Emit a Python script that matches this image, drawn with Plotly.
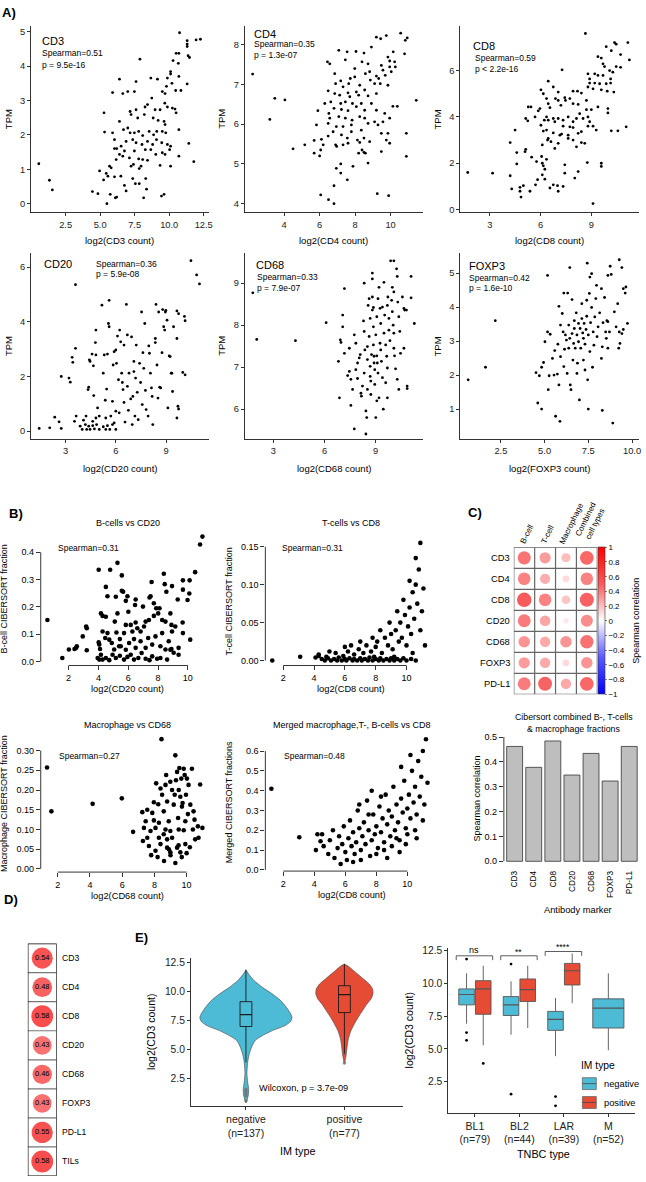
import plotly.graph_objects as go

W, H = 646, 1182
FONT = "Liberation Sans, Arial, Helvetica, sans-serif"

# ======================= DATA =======================
# ---- Panel A: TPM vs log2(count) ----
cd3_pts = [(0.56,1.16),(1.33,0.68),(1.54,0.40),(4.44,0.35),(4.84,0.29),(5.49,0.0),(5.73,0.27),(6.1,0.17),(6.2,0.19),(5.25,0.69),(5.56,0.8),(5.44,0.88),(5.8,1.04),(6.04,0.78),(6.5,0.8),(6.76,0.53),(6.88,0.37),(7.36,0.73),(7.55,0.58),(7.83,0.58),(8.15,0.17),(8.36,0.42),(8.3,0.73),(9.44,0.22),(9.63,0.27),
(10.75,4.97),(11.3,4.74),(11.3,4.64),(11.3,4.57),(11.95,4.76),(12.26,4.78),(11.37,4.3),(11.47,4.25),(10.5,4.37),(10.7,4.37),(10.28,4.16),(10.66,4.08),(10.1,3.84),(10.1,3.77),(7.88,4.2),(6.4,3.62),(7.6,3.55),(8.67,3.65),(9.15,3.62),(9.87,3.65),(10.7,3.7),(11.3,3.48),(5.9,3.23),(6.64,3.2),(7.0,3.26),(7.48,3.26),(8.74,3.07),(9.5,3.26),(9.7,3.2),(10.47,3.29),(10.85,3.29),(9.8,3.41),(10.2,3.5),
(5.28,2.64),(7.17,2.68),(7.24,2.59),(7.6,2.73),(8.25,2.81),(8.43,2.88),(8.98,2.73),(9.34,2.73),(9.68,2.92),(9.87,2.81),(10.23,2.78),(10.42,2.75),(10.5,2.64),(7.72,2.49),(8.2,2.59),(8.84,2.49),(9.2,2.42),(9.63,2.39),(9.7,2.3),(6.4,2.39),(6.69,2.15),(7.0,2.2),(7.17,2.06),(7.48,2.06),(7.79,2.1),(8.08,1.98),(8.55,2.1),(8.87,2.0),(9.1,2.1),(9.5,2.1),(9.75,2.06),(10.7,2.15),(5.32,2.08),(5.9,2.06),(6.04,1.86),(6.04,1.6),(6.2,1.6),(6.52,1.67),(6.88,1.81),(7.36,1.86),(7.6,1.77),(8.03,1.72),(8.43,1.81),(8.8,1.72),(9.08,1.86),(9.46,1.77),(9.87,1.72),(10.1,1.67),(6.76,1.53),(7.48,1.53),(8.27,1.57),(8.67,1.57),(9.03,1.43),(9.5,1.48),(9.7,1.43),(10.03,1.57),(6.64,1.38),(7.12,1.33),(7.79,1.3),(8.08,1.28),(8.43,1.26),(7.24,1.09),(7.41,1.14),(7.96,1.09),(7.83,1.02),(9.34,1.11),(10.1,1.09),(10.7,1.38),(11.42,1.75),(11.78,1.22),(6.16,1.28),(6.4,1.43),(4.96,0.95),(5.68,1.09)]

cd4_pts = [(2.22,7.26),(3.47,6.65),(4.04,6.61),(3.19,6.12),(4.5,5.38),(5.16,5.48),(5.69,5.27),(5.69,5.59),(6.06,5.35),(6.2,5.48),(6.1,5.62),(6.0,5.2),(5.9,6.34),(5.82,5.98),(6.29,6.52),(6.48,6.84),(6.63,6.56),(6.52,6.27),(6.48,6.02),(6.44,7.57),(6.57,7.52),(6.85,7.27),(6.9,7.02),(7.08,7.86),(7.45,7.62),(7.55,7.82),(8.05,7.83),(8.5,7.79),(8.92,7.94),(9.2,8.19),(9.44,8.15),(9.76,8.23),(10.57,8.29),(10.94,8.17),(10.83,8.11),(10.79,7.77),(10.15,7.82),(9.85,7.69),(9.95,7.59),(10.23,7.57),(10.27,7.44),(9.95,7.44),(9.48,7.48),(9.57,7.36),(10.04,7.32),(9.7,7.23),(9.2,7.21),(8.82,7.32),(8.73,7.52),(8.39,7.57),(7.98,7.4),(8.58,7.27),(7.98,7.19),(7.73,7.15),(7.19,7.09),(7.32,6.94),(7.64,7.02),(8.26,6.98),(8.86,7.11),(9.1,7.02),(9.33,7.15),(9.42,7.02),(9.85,6.98),(8.54,6.86),(8.07,6.81),(7.6,6.79),(7.13,6.73),(6.85,6.77),(7.7,6.69),(8.2,6.73),(8.73,6.71),(9.2,6.77),(7.19,6.52),(7.45,6.56),(7.85,6.52),(8.35,6.52),(8.92,6.52),(6.81,6.4),(7.23,6.37),(7.6,6.34),(8.07,6.44),(8.54,6.35),(9.2,6.35),(9.67,6.27),(10.13,6.45),(10.38,6.45),(11.45,6.6),(6.57,6.15),(7.08,6.19),(7.45,6.15),(7.83,6.1),(8.26,6.19),(8.54,6.15),(9.1,6.06),(9.57,6.06),(9.95,6.15),(6.94,5.94),(7.32,5.94),(7.79,5.98),(8.35,5.85),(8.73,6.02),(9.29,5.98),(9.48,5.77),(9.85,5.77),(9.76,5.6),(6.76,5.81),(7.23,5.73),(7.79,5.81),(7.56,5.65),(8.13,5.6),(8.5,5.65),(8.82,5.56),(6.48,5.7),(6.9,5.48),(6.96,5.44),(7.32,5.48),(7.6,5.52),(8.26,5.54),(8.39,5.35),(8.58,5.27),(8.5,5.29),(8.2,5.27),(7.88,4.94),(8.73,5.02),(9.48,5.31),(9.95,5.52),(10.89,5.77),(10.89,5.19),(6.94,4.89),(7.19,5.0),(7.19,4.77),(7.56,4.6),(6.81,4.45),(6.06,4.22),(6.5,4.1),(6.81,4.0),(9.25,4.25),(9.89,4.2)]

cd8_pts = [(1.69,1.6),(3.16,1.57),(4.2,1.46),(4.29,0.89),(4.78,0.96),(4.78,0.79),(4.84,0.54),(4.98,1.03),(5.37,0.79),(4.49,3.43),(4.2,2.89),(4.59,2.46),(4.59,1.97),(5.12,2.6),(5.08,2.5),(5.47,2.26),(5.76,2.07),(6.06,2.29),(6.16,1.89),(6.35,2.17),(6.25,1.31),(6.55,0.93),(6.75,1.07),(7.0,1.03),(7.33,1.0),(7.04,0.79),(5.7,1.07),(5.82,1.29),(6.1,1.5),(6.25,1.74),(6.1,2.0),(7.43,1.93),(7.43,1.57),(8.02,1.36),(8.22,1.64),(8.76,2.03),(9.59,2.0),(9.59,1.86),(9.1,0.26),(8.65,7.6),(10.37,7.21),(10.47,7.14),(11.16,7.21),(9.88,7.03),(10.18,6.86),(11.25,6.46),(10.73,6.69),(9.39,6.6),(9.59,6.54),(9.69,6.29),(9.78,6.17),(10.08,6.0),(10.27,5.93),(10.47,6.17),(10.73,6.14),(9.2,5.86),(8.8,5.86),(8.9,5.64),(9.39,5.79),(9.69,5.79),(10.14,5.64),(8.9,5.46),(9.2,5.46),(9.49,5.43),(9.88,5.43),(10.14,5.46),(8.8,5.29),(9.1,5.21),(9.59,5.17),(9.94,5.11),(10.33,5.07),(8.41,5.03),(7.92,5.11),(8.18,5.11),(7.27,6.03),(6.45,5.54),(6.75,5.29),(7.04,5.07),(6.02,5.17),(6.16,5.0),(6.35,4.79),(6.88,4.79),(7.43,4.83),(7.47,4.71),(7.73,4.79),(7.04,4.71),(6.45,4.57),(5.27,4.43),(5.43,4.43),(5.96,4.36),(5.86,4.26),(6.55,4.4),(7.2,4.5),(7.92,4.57),(8.22,4.54),(8.71,4.71),(8.31,4.14),(8.71,4.31),(9.0,4.31),(9.39,4.43),(9.98,4.36),(9.98,4.17),(5.12,3.93),(5.24,3.83),(5.67,4.0),(6.02,3.64),(6.22,3.86),(6.35,4.0),(6.45,3.86),(6.75,3.93),(6.84,3.79),(7.04,3.93),(7.33,3.86),(7.63,4.0),(7.92,3.79),(8.12,3.93),(8.51,3.93),(8.8,4.0),(8.9,3.79),(7.33,3.6),(7.73,3.57),(7.92,3.54),(8.8,3.6),(9.1,3.6),(9.29,3.43),(10.18,3.4),(10.57,3.4),(11.06,3.57),(6.16,3.39),(6.35,3.43),(6.75,3.31),(7.14,3.21),(7.24,3.26),(7.63,3.21),(8.22,3.29),(8.41,3.36),(6.41,3.0),(6.45,3.07),(6.61,2.93),(7.04,2.86),(7.92,3.0),(8.12,2.71),(8.41,2.89),(8.61,2.86),(7.63,3.07),(6.84,2.64),(6.1,2.79)]

cd20_pts = [(1.42,0.1),(2.05,0.12),(2.35,0.51),(2.61,0.34),(2.74,0.1),(2.74,2.0),(3.2,1.94),(3.28,1.79),(3.39,2.7),(3.43,2.52),(3.59,5.36),(3.59,3.03),(3.63,0.55),(3.99,0.06),(4.07,0.4),(4.18,0.24),(4.26,0.06),(4.38,0.18),(4.46,0.06),(4.62,0.2),(4.72,0.08),(4.85,0.24),(5.01,0.06),(5.25,0.16),(5.4,0.06),(5.5,0.2),(5.64,0.06),(5.8,0.24),(6.0,0.06),(3.53,0.36),(3.87,0.18),(4.22,0.55),(4.34,1.52),(4.38,1.61),(4.46,2.55),(4.42,2.61),(4.58,2.82),(4.66,2.39),(4.68,1.3),(4.78,3.24),(4.81,3.7),(4.91,0.85),(4.81,2.79),(5.01,0.55),(5.17,4.61),(5.25,2.12),(5.31,2.79),(5.37,1.13),(5.5,2.82),(5.45,1.54),(5.6,4.79),(5.56,3.94),(5.6,3.82),(5.7,0.55),(5.8,1.09),(5.84,2.42),(5.9,2.91),(6.0,2.97),(6.04,2.48),(6.1,3.48),(6.16,1.88),(6.2,0.67),(6.23,3.7),(6.29,3.27),(6.35,2.12),(6.39,1.78),(6.43,1.52),(6.49,3.15),(6.49,1.05),(6.55,0.33),(6.63,4.64),(6.69,3.52),(6.69,1.64),(6.75,0.76),(6.79,2.12),(6.89,1.18),(6.94,3.45),(6.98,0.24),(7.02,1.27),(7.08,2.55),(7.08,2.18),(7.14,0.55),(7.18,1.94),(7.22,3.15),(7.28,1.42),(7.34,0.42),(7.42,2.48),(7.48,1.78),(7.54,4.36),(7.58,0.97),(7.62,2.87),(7.67,2.3),(7.73,3.94),(7.77,1.49),(7.81,0.79),(7.93,0.55),(7.97,3.12),(8.01,2.85),(8.07,2.12),(8.13,1.58),(8.17,1.27),(8.21,0.24),(8.36,3.39),(8.36,3.24),(8.4,4.64),(8.46,2.42),(8.52,1.21),(8.56,4.36),(8.62,1.61),(8.68,1.58),(8.76,2.87),(8.8,4.45),(8.86,3.82),(8.92,3.7),(8.96,4.36),(8.99,4.42),(9.06,4.06),(9.11,0.85),(9.19,2.75),(9.25,2.73),(9.31,2.12),(9.35,2.12),(9.39,1.45),(9.45,3.82),(9.65,3.39),(9.65,4.4),(9.71,0.91),(9.75,4.3),(9.75,0.81),(9.65,0.48),(10.0,2.15),(10.14,2.06),(10.1,4.2),(10.14,4.04),(10.49,6.24),(10.83,5.72),(11.0,5.39),(6.0,0.73),(5.4,0.48),(5.9,0.3),(4.81,0.48),(4.62,0.36)]

cd68_pts = [(1.8,8.77),(2.03,7.66),(4.3,7.63),(6.1,8.06),(6.82,7.14),(6.88,6.27),(7.07,8.24),(7.07,7.96),(6.93,7.65),(6.97,7.59),(7.17,7.33),(7.36,6.8),(7.55,6.09),(7.75,5.53),(7.17,8.87),(7.46,7.45),(7.46,6.9),(7.55,6.71),(7.65,6.47),(7.75,7.77),(7.84,7.57),(7.84,6.94),(7.94,6.73),(7.94,7.1),(8.04,7.22),(8.1,7.3),(8.14,6.38),(8.17,6.31),(8.23,6.55),(8.29,8.1),(8.33,9.0),(8.33,6.86),(8.37,7.41),(8.43,5.96),(8.43,5.41),(8.48,5.8),(8.52,7.49),(8.52,7.18),(8.56,8.47),(8.62,7.73),(8.62,8.63),(8.68,7.02),(8.68,6.78),(8.72,6.67),(8.72,6.35),(8.76,7.3),(8.81,9.24),(8.81,9.1),(8.81,8.67),(8.81,8.36),(8.87,7.96),(8.87,7.53),(8.91,7.26),(8.91,7.1),(8.95,6.94),(8.95,6.59),(9.01,5.8),(9.01,7.77),(9.07,8.2),(9.07,7.27),(9.1,7.1),(9.14,8.63),(9.14,6.86),(9.2,8.9),(9.2,6.27),(9.26,8.4),(9.26,7.57),(9.3,8.04),(9.3,7.41),(9.34,7.14),(9.4,6.75),(9.45,6.0),(9.49,7.81),(9.49,9.02),(9.53,8.24),(9.59,7.53),(9.59,6.63),(9.65,7.26),(9.69,8.47),(9.69,6.98),(9.72,8.67),(9.78,8.16),(9.78,7.88),(9.84,7.63),(9.88,9.53),(10.07,9.53),(9.98,8.9),(10.07,8.79),(9.94,8.59),(9.98,8.32),(10.03,8.0),(10.07,7.81),(10.07,7.45),(10.11,7.27),(10.17,6.96),(10.23,9.34),(10.27,9.16),(10.3,8.55),(10.36,8.2),(10.42,7.85),(10.46,7.33),(10.27,6.71),(10.36,6.47),(10.57,8.67),(10.66,8.4),(10.66,7.45),(10.7,8.36),(10.81,8.36),(10.85,6.55),(10.85,6.49),(11.08,9.16),(11.08,8.65),(11.27,8.04),(8.33,7.85),(8.68,8.16),(8.87,8.42),(9.4,8.43),(9.07,6.2),(9.69,6.27),(8.52,6.47)]

foxp3_pts = [(0.63,1.86),(1.62,2.23),(2.18,3.6),(4.61,1.18),(4.83,1.0),(4.51,2.07),(4.7,1.98),(4.83,2.23),(4.94,2.37),(5.02,2.98),(5.17,4.93),(5.17,3.27),(5.21,1.57),(5.26,1.98),(5.32,3.2),(5.45,2.49),(5.54,2.0),(5.58,2.72),(5.63,0.79),(5.73,2.03),(5.76,2.91),(5.82,4.02),(5.82,1.71),(5.88,0.64),(5.91,2.54),(5.91,3.47),(6.01,3.81),(6.06,3.27),(6.1,4.41),(6.14,2.76),(6.19,3.18),(6.25,3.03),(6.32,4.41),(6.38,3.47),(6.38,2.79),(6.44,5.16),(6.44,3.08),(6.47,1.71),(6.51,1.57),(6.57,4.22),(6.57,3.22),(6.62,2.44),(6.66,2.93),(6.7,3.6),(6.7,3.37),(6.75,2.79),(6.81,3.83),(6.85,3.18),(6.85,2.05),(6.88,2.35),(6.94,3.52),(6.94,2.98),(6.99,1.27),(7.03,3.37),(7.07,2.79),(7.13,4.1),(7.13,3.66),(7.18,3.24),(7.22,3.08),(7.22,2.44),(7.26,3.52),(7.31,2.91),(7.31,2.15),(7.37,3.34),(7.41,4.2),(7.41,3.73),(7.44,5.29),(7.46,1.86),(7.5,3.18),(7.5,1.0),(7.56,4.4),(7.59,4.88),(7.59,2.69),(7.63,3.54),(7.69,4.98),(7.69,3.99),(7.74,2.23),(7.78,3.27),(7.82,2.88),(7.87,3.71),(7.93,4.25),(7.97,4.64),(8.0,3.13),(8.06,3.42),(8.15,3.83),(8.25,4.54),(8.3,2.83),(8.34,3.54),(8.43,4.28),(8.49,3.27),(8.56,3.6),(8.62,4.93),(8.62,3.57),(8.71,3.27),(8.3,0.96),(8.75,5.2),(8.81,4.96),(8.9,0.59),(8.99,3.86),(9.09,3.42),(9.18,4.1),(9.27,5.39),(9.31,2.93),(9.42,5.16),(9.5,4.54),(9.61,4.41),(9.65,4.59),(9.24,2.79),(9.42,3.22),(9.5,3.34),(9.74,3.52),(9.27,3.27),(8.62,2.79),(8.25,2.49),(8.53,3.08),(6.29,2.05),(6.1,2.25)]

# ---- Panel B: CIBERSORT fractions vs log2(count) ----
bcell_pts = [(0.58,0.152),(10.98,0.457),(10.82,0.428),(10.49,0.327),(9.67,0.297),(10.12,0.297),(10.1,0.249),(9.98,0.225),(9.67,0.263),(9.32,0.227),(8.94,0.276),(8.39,0.321),(8.45,0.283),(8.56,0.255),(7.57,0.291),(7.5,0.239),(7.43,0.234),(7.72,0.213),(8.1,0.195),(4.02,0.336),(4.79,0.336),(5.28,0.361),(5.57,0.315),(4.5,0.273),(4.61,0.239),(5.17,0.237),(5.66,0.255),(5.57,0.259),(5.95,0.239),(5.84,0.222),(6.5,0.227),(6.46,0.207),(6.99,0.201),(6.01,0.182),(5.28,0.176),(4.17,0.176),(4.28,0.167),(4.5,0.164),(5.1,0.146),(3.18,0.128),(3.22,0.122),(2.95,0.092),(4.02,0.07),(4.28,0.11),(4.61,0.104),(4.46,0.086),(4.73,0.08),(4.9,0.068),(5.21,0.106),(5.44,0.082),(5.72,0.104),(5.84,0.134),(6.17,0.134),(6.5,0.143),(6.28,0.11),(6.61,0.122),(6.83,0.11),(7.06,0.128),(7.17,0.146),(7.39,0.152),(7.72,0.167),(8.01,0.176),(7.88,0.195),(8.28,0.152),(8.5,0.146),(8.83,0.176),(8.9,0.134),(8.94,0.11),(9.16,0.128),(9.65,0.143),(9.67,0.104),(10.16,0.08),(8.72,0.074),(8.28,0.104),(7.83,0.092),(7.34,0.086),(6.83,0.074),(6.39,0.082),(6.06,0.068),(5.5,0.056),(5.06,0.044),(4.11,0.046),(2.02,0.044),(2.51,0.05),(1.58,0.013),(7.17,0.05),(7.61,0.062),(8.16,0.056),(8.5,0.044),(8.9,0.046),(9.38,0.05),(9.05,0.032),(2.4,0.046),(2.55,0.056),(3.22,0.041),(3.95,0.013),(4.06,0.007),(4.17,0.025),(4.28,0.007),(4.5,0.013),(4.73,0.005),(4.95,0.025),(5.17,0.013),(5.44,0.021),(5.72,0.007),(5.95,0.017),(6.17,0.025),(6.39,0.007),(6.68,0.013),(6.9,0.031),(7.17,0.01),(7.43,0.005),(7.61,0.019),(7.94,0.01),(8.16,0.013),(8.61,0.007),(8.83,0.043),(9.38,0.025),(5.84,0.043),(6.5,0.05),(5.39,0.056),(4.06,0.062)]

tcell_pts = [(1.29,0.0),(3.1,0.005),(4.1,0.004),(4.3,0.006),(4.5,0.002),(4.7,0.0),(4.9,0.003),(5.1,0.0),(5.3,0.002),(5.5,0.0),(5.6,0.004),(5.8,0.0),(6.0,0.002),(6.1,0.0),(6.3,0.003),(6.5,0.0),(6.6,0.002),(6.8,0.0),(7.0,0.003),(7.1,0.0),(7.3,0.002),(7.5,0.0),(7.6,0.004),(7.8,0.0),(8.0,0.002),(8.2,0.0),(8.3,0.003),(8.5,0.0),(8.7,0.002),(8.9,0.0),(9.0,0.003),(9.2,0.0),(9.4,0.002),(9.6,0.0),(9.8,0.003),(10.0,0.0),(10.3,0.002),(10.6,0.0),
(4.3,0.008),(4.8,0.005),(5.4,0.01),(5.9,0.006),(6.2,0.012),(6.6,0.008),(6.9,0.015),(7.2,0.01),(7.4,0.02),(7.7,0.012),(8.0,0.018),(8.1,0.025),(8.4,0.01),(8.6,0.03),(8.8,0.02),(9.0,0.035),(9.1,0.015),(9.3,0.04),(9.5,0.025),(9.6,0.05),(9.7,0.03),(9.9,0.06),(10.0,0.02),(10.1,0.045),(10.2,0.07),(10.3,0.035),(10.4,0.09),(10.5,0.055),(10.6,0.1),(10.7,0.075),(10.8,0.12),(10.9,0.04),(11.0,0.065),(11.1,0.095),(10.6,0.135),(10.9,0.155),(10.2,0.105),(9.8,0.08),(9.4,0.065),(8.9,0.05),(8.3,0.04),(7.8,0.03),(7.0,0.025),(6.4,0.02),(6.0,0.018),(5.0,0.012),(11.2,0.02),(10.4,0.01),(9.2,0.005),(7.9,0.005)]

macro_pts = [(1.34,0.257),(1.61,0.146),(4.17,0.165),(5.98,0.179),(6.68,0.094),(8.44,0.329),(9.3,0.288),(7.25,0.144),(7.56,0.15),(7.87,0.142),(7.97,0.169),(8.11,0.217),(8.24,0.164),(8.38,0.204),(8.48,0.188),(8.58,0.146),(8.69,0.213),(8.73,0.238),(8.79,0.171),(8.89,0.121),(8.99,0.221),(9.1,0.2),(9.2,0.163),(9.26,0.188),(9.34,0.225),(9.41,0.246),(9.47,0.129),(9.51,0.2),(9.55,0.256),(9.61,0.183),(9.67,0.229),(9.71,0.158),(9.75,0.167),(9.82,0.254),(9.88,0.238),(9.92,0.121),(9.96,0.188),(10.02,0.229),(10.08,0.139),(10.12,0.213),(10.23,0.163),(10.33,0.254),(10.39,0.1),(10.43,0.146),(10.49,0.125),(10.7,0.108),(10.84,0.214),(10.98,0.104),(10.53,0.075),(10.74,0.079),(9.1,0.079),(8.79,0.075),(8.58,0.088),(8.28,0.079),(8.07,0.104),(7.76,0.096),(7.56,0.079),(7.35,0.104),(7.29,0.071),(7.66,0.058),(8.07,0.046),(8.38,0.063),(8.79,0.054),(8.99,0.042),(9.41,0.054),(9.61,0.042),(9.92,0.063),(8.28,0.117),(8.69,0.1),(8.99,0.096),(9.51,0.1),(9.82,0.098),(7.97,0.123),(7.46,0.121),(8.2,0.03),(8.6,0.02),(9.0,0.035),(9.3,0.015),(9.7,0.03),(10.0,0.04),(8.9,0.05),(9.5,0.06),(10.2,0.055),(7.8,0.035)]

merged_pts = [(1.23,0.41),(3.03,0.165),(4.2,0.18),(4.5,0.18),(4.4,0.145),(4.1,0.1),(4.6,0.12),(4.9,0.08),(5.0,0.15),(5.2,0.2),(5.3,0.06),(5.5,0.11),(5.6,0.17),(5.8,0.13),(5.9,0.22),(6.0,0.09),(6.1,0.05),(6.2,0.16),(6.3,0.25),(6.4,0.12),(6.5,0.19),(6.6,0.08),(6.7,0.14),(6.8,0.3),(6.9,0.21),(7.0,0.1),(7.1,0.17),(7.2,0.24),(7.3,0.13),(7.4,0.35),(7.5,0.2),(7.6,0.07),(7.7,0.15),(7.8,0.28),(7.9,0.18),(8.0,0.22),(8.1,0.11),(8.2,0.32),(8.3,0.19),(8.4,0.26),(8.5,0.14),(8.6,0.38),(8.7,0.23),(8.8,0.3),(8.9,0.17),(9.0,0.27),(9.1,0.42),(9.2,0.2),(9.3,0.33),(9.4,0.24),(9.5,0.15),(9.6,0.36),(9.7,0.29),(9.8,0.45),(9.9,0.21),(10.0,0.31),(10.1,0.38),(10.2,0.26),(10.3,0.5),(10.4,0.34),(10.5,0.42),(10.6,0.28),(10.7,0.55),(10.8,0.37),(10.9,0.47),(11.0,0.6),(11.1,0.33),(11.2,0.66),(11.3,0.44),(8.0,0.08),(8.5,0.1),(9.0,0.12),(9.5,0.09),(10.0,0.18),(10.5,0.2),(7.0,0.05),(6.5,0.04),(5.7,0.03),(8.7,0.06),(9.3,0.16),(9.9,0.13),(10.6,0.16),(11.0,0.25),(7.5,0.28),(8.3,0.37),(6.9,0.33),(7.7,0.4),(9.6,0.52),(10.2,0.58)]

# ---- Panel C: correlation matrix & bar chart ----
c_markers = ["CD3", "CD4", "CD8", "CD20", "CD68", "FOXP3", "PD-L1"]
c_celltypes = ["B-cell", "T-cell", "Macrophage", "Combined<br>cell types"]
c_bcell = [0.42, 0.38, 0.50, 0.40, 0.32, 0.30, 0.40]
c_tcell = [0.30, 0.25, 0.38, 0.27, 0.26, 0.26, 0.47]
c_macro = [0.20, 0.11, 0.18, 0.07, 0.32, 0.11, 0.26]
c_comb = [0.46, 0.38, 0.48, 0.35, 0.43, 0.32, 0.46]
bar_rho = [0.462, 0.378, 0.484, 0.347, 0.434, 0.323, 0.462]

# ---- Panel D ----
d_labels = ["CD3", "CD4", "CD8", "CD20", "CD68", "FOXP3", "PD-L1", "TILs"]
d_values = [0.54, 0.48, 0.58, 0.43, 0.46, 0.43, 0.55, 0.58]

# ---- Panel E (left): violins ----
im_types = ["negative", "positive"]
im_n = [137, 77]
neg_levels = [0.41, 0.64, 1.07, 1.64, 2.21, 2.93, 3.5, 4.07, 4.64, 5.21, 5.79, 6.21, 6.64, 7.07, 7.44, 7.79, 8.07, 8.64, 9.21, 9.79, 10.36, 10.93, 11.5, 11.87]
neg_halfw = [0.0, 0.01, 0.024, 0.027, 0.017, 0.01, 0.013, 0.02, 0.034, 0.057, 0.094, 0.168, 0.269, 0.397, 0.455, 0.468, 0.455, 0.411, 0.354, 0.269, 0.168, 0.084, 0.027, 0.0]
pos_levels = [3.84, 4.5, 5.21, 5.93, 6.64, 7.21, 7.79, 8.36, 8.93, 9.36, 9.79, 10.21, 10.64, 11.21, 11.79, 12.21, 12.36]
pos_halfw = [0.0, 0.017, 0.027, 0.04, 0.067, 0.101, 0.141, 0.185, 0.229, 0.27, 0.29, 0.286, 0.253, 0.175, 0.094, 0.034, 0.0]
vio_q1 = [6.99, 8.19]
vio_med = [8.01, 9.73]
vio_q3 = [9.13, 10.5]
vio_lo = [3.9, 4.64]
vio_hi = [11.87, 12.36]
vio_out = [[0.6, 1.0, 1.2, 1.4, 1.6], [3.84]]

# ---- Panel E (right): boxplots by TNBC type ----
tnbc_types = ["BL1", "BL2", "LAR", "M"]
tnbc_n = [79, 44, 39, 52]
neg_box = dict(q1=[8.37, 7.56, 6.42, 6.6], med=[9.16, 8.37, 7.26, 8.12], q3=[9.59, 9.0, 7.87, 8.83],
               lo=[6.93, 6.09, 4.45, 4.9], hi=[10.78, 10.17, 8.9, 10.78])
neg_out = [[11.87, 6.25, 5.66], [11.49, 1.54], [1.36, 0.65], []]
pos_box = dict(q1=[7.65, 8.63, 9.89], med=[9.59, 9.54, 10.98], q3=[10.22, 10.35, 11.54],
               lo=[5.28, 6.6, 8.5], hi=[11.36, 11.36, 12.3])
pos_out = [[3.89], [], []]
sig_labels = ["ns", "**", "****"]

NEG_COL = "#4DBBD5"
POS_COL = "#E64B35"
CORR_SCALE = [[0, "#0000FF"], [0.25, "#5A5AFF"], [0.5, "#FFFFFF"], [0.75, "#F85A5A"], [1, "#FF0000"]]

# ======================= HELPERS =======================
fig = go.Figure()
layout = dict(width=W, height=H, margin=dict(l=0, r=0, t=0, b=0), paper_bgcolor="white",
              plot_bgcolor="white", showlegend=False, font=dict(family=FONT, color="black", size=9))
annotations, shapes = [], []
_n = [0]


def new_axes(box, xr, yr, xkw=None, ykw=None):
    _n[0] += 1
    s = "" if _n[0] == 1 else str(_n[0])
    x0, x1, y0, y1 = box
    xa = dict(domain=[x0 / W, x1 / W], range=list(xr), anchor="y" + s, showgrid=False, zeroline=False, fixedrange=True)
    ya = dict(domain=[1 - y1 / H, 1 - y0 / H], range=list(yr), anchor="x" + s, showgrid=False, zeroline=False, fixedrange=True)
    if xkw:
        xa.update(xkw)
    if ykw:
        ya.update(ykw)
    layout["xaxis" + s] = xa
    layout["yaxis" + s] = ya
    return "x" + s, "y" + s


def text(x, y, s, size=9, xanchor="center", yanchor="middle", angle=0, bold=False, color="black"):
    if bold:
        s = "<b>" + s + "</b>"
    annotations.append(dict(x=x / W, y=1 - y / H, xref="paper", yref="paper", text=s, showarrow=False,
                            xanchor=xanchor, yanchor=yanchor, textangle=angle, borderpad=0,
                            font=dict(size=size, color=color, family=FONT)))


def gg_axis(vals, labels, size=9.3):
    return dict(showline=True, linecolor="black", linewidth=0.8, ticks="outside", ticklen=3, tickwidth=0.8,
                tickcolor="black", tickvals=vals, ticktext=labels, tickfont=dict(size=size, color="#222"))


def r_axis(vals, labels, size=9):
    return dict(showline=False, ticks="outside", ticklen=4, tickwidth=0.8, tickcolor="black",
                tickvals=vals, ticktext=labels, tickfont=dict(size=size, color="black"))


def r_lines(xa, ya, xv, yv):
    shapes.append(dict(type="line", xref=xa, yref=ya + " domain", x0=xv[0], x1=xv[-1], y0=0, y1=0,
                       line=dict(color="black", width=0.8)))
    shapes.append(dict(type="line", xref=xa + " domain", yref=ya, x0=0, x1=0, y0=yv[0], y1=yv[-1],
                       line=dict(color="black", width=0.8)))


def unzip(pts):
    return [p[0] for p in pts], [p[1] for p in pts]


def fmt(v, d):
    return f"{v:.{d}f}"


def scatter_box(xa, ya, x, w, q1, med, q3, lo, hi, fill, line_col, lw=0.9):
    """Box-and-whisker glyph drawn with scatter traces (stacks above filled scatter traces)."""
    h = w / 2
    fig.add_trace(go.Scatter(x=[x, x, None, x, x], y=[lo, q1, None, q3, hi], mode="lines", xaxis=xa, yaxis=ya,
                             line=dict(color=line_col, width=lw), hoverinfo="skip"))
    fig.add_trace(go.Scatter(x=[x - h, x + h, x + h, x - h, x - h], y=[q1, q1, q3, q3, q1], mode="lines",
                             fill="toself", fillcolor=fill, xaxis=xa, yaxis=ya,
                             line=dict(color=line_col, width=lw), hoverinfo="skip"))
    fig.add_trace(go.Scatter(x=[x - h, x + h], y=[med, med], mode="lines", xaxis=xa, yaxis=ya,
                             line=dict(color=line_col, width=lw * 1.3), hoverinfo="skip"))

# ======================= PANEL A =======================
A_specs = [
    ("CD3", cd3_pts, (31, 210, 22, 210), (-0.02, 12.86), (-0.26, 5.17), [2.5, 5, 7.5, 10, 12.5], 1, [0, 1, 2, 3, 4, 5],
     "log2(CD3 count)", "Spearman=0.51", "p = 9.5e-16", (41, 37), (41, 49, 61), 238),
    ("CD4", cd4_pts, (246, 426, 22, 210), (1.76, 11.85), (3.775, 8.475), [4, 6, 8, 10], 0, [4, 5, 6, 7, 8],
     "log2(CD4 count)", "Spearman=0.35", "p = 1.3e-07", (255, 30), (255, 40, 51), 238),
    ("CD8", cd8_pts, (463, 643, 22, 210), (1.24, 11.82), (-0.13, 7.93), [3, 6, 9], 0, [0, 2, 4, 6],
     "log2(CD8 count)", "Spearman=0.59", "p &lt; 2.2e-16", (475, 42), (477, 54, 65), 238),
    ("CD20", cd20_pts, (31, 210, 251, 438), (0.92, 11.55), (-0.29, 6.51), [3, 6, 9], 0, [0, 2, 4, 6],
     "log2(CD20 count)", "Spearman=0.36", "p = 5.9e-08", (43, 262), (96, 262, 272), 468),
    ("CD68", cd68_pts, (246, 426, 251, 438), (1.31, 11.8), (5.29, 9.71), [3, 6, 9], 0, [6, 7, 8, 9],
     "log2(CD68 count)", "Spearman=0.33", "p = 7.9e-07", (257, 263), (258, 275, 286), 468),
    ("FOXP3", foxp3_pts, (463, 643, 251, 438), (0.17, 10.4), (0.12, 5.58), [2.5, 5, 7.5, 10], 1, [1, 2, 3, 4, 5],
     "log2(FOXP3 count)", "Spearman=0.42", "p = 1.6e-10", (471, 264), (471, 276, 286), 468),
]
for name, pts, box, xr, yr, xt, xd, yt, xtitle, rho, pval, npos, tpos, xty in A_specs:
    xa, ya = new_axes(box, xr, yr, gg_axis(xt, [fmt(v, xd) for v in xt]), gg_axis(yt, [str(v) for v in yt]))
    xs, ys = unzip(pts)
    fig.add_trace(go.Scatter(x=xs, y=ys, mode="markers", xaxis=xa, yaxis=ya,
                             marker=dict(size=2.8, color="black"), hoverinfo="skip"))
    text(npos[0], npos[1], name, size=11, xanchor="left")
    text(tpos[0], tpos[1], rho, size=8.5, xanchor="left")
    text(tpos[0], tpos[2], pval, size=8.5, xanchor="left")
    text((box[0] + box[1]) / 2, xty, xtitle, size=9.5)
    text(box[0] - 23, (box[2] + box[3]) / 2, "TPM", size=9.5, angle=-90)

text(1, 9, "A)", size=13, xanchor="left", bold=True)

# ======================= PANEL B =======================
B_specs = [
    ("B-cells vs CD20", bcell_pts, (41, 210, 531, 666), (0.133, 11.4), (-0.0145, 0.476), [2, 4, 6, 8, 10],
     [0, 0.1, 0.2, 0.3, 0.4], 1, "log2(CD20 count)", "B-cell CIBERSORT fraction", "Spearman=0.31", 4, 548, 57, 523),
    ("T-cells vs CD8", tcell_pts, (267, 434, 538, 666), (0.84, 11.61), (-0.0065, 0.161), [2, 4, 6, 8, 10],
     [0, 0.05, 0.10, 0.15], 2, "log2(CD8 count)", "T-cell CIBERSORT fraction", "Spearman=0.31", 230, 548, 283, 523),
    ("Macrophage vs CD68", macro_pts, (41, 210, 735, 874), (0.95, 11.37), (-0.008, 0.342), [2, 4, 6, 8, 10],
     [0, 0.05, 0.10, 0.15, 0.20, 0.25, 0.30], 2, "log2(CD68 count)", "Macrophage CIBERSORT fraction", "Spearman=0.27", 4, 757, 58, 726),
    ("Merged macrophage,T-, B-cells vs CD8", merged_pts, (267, 435, 735, 873), (0.84, 11.61), (-0.006, 0.686),
     [2, 4, 6, 8, 10], [0, 0.1, 0.2, 0.3, 0.4, 0.5, 0.6], 1, "log2(CD8 count)", "Merged CIBERSORT fractions", "Spearman=0.48", 230, 757, 285, 726),
]
for title, pts, box, xr, yr, xt, yt, yd, xtitle, ytitle, rho, ytx, rhoy, rhox, tty in B_specs:
    xa, ya = new_axes(box, xr, yr, r_axis(xt, [str(v) for v in xt]), r_axis(yt, [fmt(v, yd) for v in yt]))
    r_lines(xa, ya, xt, yt)
    xs, ys = unzip(pts)
    fig.add_trace(go.Scatter(x=xs, y=ys, mode="markers", xaxis=xa, yaxis=ya,
                             marker=dict(size=4.6, color="black"), hoverinfo="skip"))
    cx = (box[0] + box[1]) / 2 + 3
    text(cx, tty, title, size=9)
    text(cx, box[3] + 24, xtitle, size=9.3)
    text(ytx, (box[2] + box[3]) / 2, ytitle, size=9, angle=-90)
    text(rhox, rhoy, rho, size=8.5, xanchor="left")
text(8, 513, "B)", size=13, xanchor="left", bold=True)

# ======================= PANEL C: corrplot =======================
xa, ya = new_axes((517, 601, 547, 695), (-0.5, 3.5), (6.5, -0.5),
                  dict(showticklabels=False, ticks=""), dict(showticklabels=False, ticks=""))
cols = [c_bcell, c_tcell, c_macro, c_comb]
cx_list, cy_list, cv_list = [], [], []
for j, col in enumerate(cols):
    for i, v in enumerate(col):
        cx_list.append(j)
        cy_list.append(i)
        cv_list.append(v)
CELL = 21.0
fig.add_trace(go.Scatter(
    x=cx_list, y=cy_list, mode="markers", xaxis=xa, yaxis=ya, hoverinfo="skip",
    marker=dict(size=[CELL * 0.97 * abs(v) ** 0.5 for v in cv_list], color=cv_list, cmin=-1, cmax=1,
                colorscale=CORR_SCALE, line=dict(width=0), opacity=1,
                showscale=True,
                colorbar=dict(x=602 / W, xanchor="left", xpad=0, ypad=0, y=1 - 621 / H, yanchor="middle",
                              lenmode="fraction", len=148 / H, thickness=7, outlinewidth=0.6, outlinecolor="#333",
                              bgcolor="rgba(0,0,0,0)",
                              tickvals=[-1, -0.8, -0.6, -0.4, -0.2, 0, 0.2, 0.4, 0.6, 0.8, 1],
                              ticktext=["\u22121", "\u22120.8", "\u22120.6", "\u22120.4", "\u22120.2", "0", "0.2", "0.4", "0.6", "0.8", "1"],
                              ticks="outside", ticklen=2, tickwidth=0.6, tickcolor="#333",
                              tickfont=dict(size=8, family=FONT)))))
for k in range(5):
    shapes.append(dict(type="line", xref=xa, yref=ya, x0=k - 0.5, x1=k - 0.5, y0=-0.5, y1=6.5,
                       line=dict(color="#666", width=1.2)))
for k in range(8):
    shapes.append(dict(type="line", xref=xa, yref=ya, x0=-0.5, x1=3.5, y0=k - 0.5, y1=k - 0.5,
                       line=dict(color="#666", width=1.2)))
for i, m in enumerate(c_markers):
    text(514, 558 + i * 21.14, m, size=9.3, xanchor="right")
# rotated column labels
col_label_pos = [(530, 534), (551, 534), (575, 523), (594, 521)]
for (x, y), s in zip(col_label_pos, c_celltypes):
    text(x, y, s, size=8, angle=-64)
text(470, 512, "C)", size=13, xanchor="left", bold=True)
text(640, 621, "Spearman correlation", size=9, angle=-90)

# ======================= PANEL C: bar chart =======================
xa, ya = new_axes((507, 644, 737, 868), (-0.564, 6.564), (-0.0194, 0.504),
                  dict(type="category", showline=False, ticks="", tickangle=-90, tickfont=dict(size=8.3),
                       ticklabelstandoff=2),
                  r_axis([0, 0.1, 0.2, 0.3, 0.4, 0.5], ["0.0", "0.1", "0.2", "0.3", "0.4", "0.5"], size=9))
shapes.append(dict(type="line", xref=xa + " domain", yref=ya, x0=0, x1=0, y0=0, y1=0.5,
                   line=dict(color="black", width=0.8)))
fig.add_trace(go.Bar(x=c_markers, y=bar_rho, xaxis=xa, yaxis=ya, width=0.833, hoverinfo="skip",
                     marker=dict(color="#BEBEBE", line=dict(color="#333", width=0.8))))
text(578, 718, "Cibersort combined B-, T-cells", size=8.8)
text(578, 730, "&amp; macrophage fractions", size=8.8)
text(582, 912, "Antibody marker", size=9.3)
text(480, 800, "Spearman correlation", size=9, angle=-90)

# ======================= PANEL D =======================
xa, ya = new_axes((28, 57, 946, 1180), (-0.5, 0.5), (7.5, -0.5),
                  dict(showticklabels=False, ticks=""), dict(showticklabels=False, ticks=""))
DCELL = 29.2
fig.add_trace(go.Scatter(
    x=[0] * len(d_values), y=list(range(len(d_values))), mode="markers+text", xaxis=xa, yaxis=ya,
    text=[fmt(v, 2) for v in d_values], textposition="middle center", textfont=dict(size=7.5, color="black", family=FONT),
    hoverinfo="skip",
    marker=dict(size=[DCELL * 0.98 * v ** 0.5 for v in d_values], color=d_values, cmin=-1, cmax=1,
                colorscale=CORR_SCALE, line=dict(width=0), opacity=1)))
for k in range(1, 8):
    shapes.append(dict(type="line", xref=xa, yref=ya, x0=-0.5, x1=0.5, y0=k - 0.5, y1=k - 0.5,
                       line=dict(color="#777", width=1.2)))
shapes.append(dict(type="rect", xref=xa, yref=ya, x0=-0.5, x1=0.5, y0=-0.5, y1=7.5,
                   line=dict(color="black", width=1.2)))
for i, lab in enumerate(d_labels):
    text(61, 960.6 + i * 29.25, lab, size=8.6, xanchor="left")
text(3, 902, "D)", size=13, xanchor="left", bold=True)

# ======================= PANEL E: violins =======================
xa, ya = new_axes((192, 406, 960, 1110), (-0.56, 1.6), (0.107, 12.93),
                  gg_axis([0, 1], [f"{t}<br>(n={n})" for t, n in zip(im_types, im_n)], size=10.5),
                  gg_axis([2.5, 5, 7.5, 10, 12.5], ["2.5", "5.0", "7.5", "10.0", "12.5"], size=10.3))
for idx, (lv, hw, col) in enumerate([(neg_levels, neg_halfw, NEG_COL), (pos_levels, pos_halfw, POS_COL)]):
    vx = [idx + w for w in hw] + [idx - w for w in reversed(hw)]
    vy = list(lv) + list(reversed(lv))
    fig.add_trace(go.Scatter(x=vx, y=vy, mode="lines", fill="toself", fillcolor=col, xaxis=xa, yaxis=ya,
                             line=dict(color="#555", width=0.7, shape="spline", smoothing=0.6), hoverinfo="skip"))
    fig.add_trace(go.Scatter(x=[idx] * len(vio_out[idx]), y=vio_out[idx], mode="markers", xaxis=xa, yaxis=ya,
                             marker=dict(size=3.5, color="rgba(110,110,110,0.8)"), hoverinfo="skip"))
    scatter_box(xa, ya, idx, 0.12, vio_q1[idx], vio_med[idx], vio_q3[idx], vio_lo[idx], vio_hi[idx],
                "rgba(0,0,0,0)", "#1a1a1a", lw=0.9)
text(260, 1091, "Wilcoxon, p = 3.7e-09", size=9.2, xanchor="left")
text(299, 1155, "IM type", size=10.8)
text(152, 1035, "log2(CD3 count)", size=10.5, angle=-90)
text(135, 940, "E)", size=13, xanchor="left", bold=True)

# ======================= PANEL E: boxplots =======================
xa, ya = new_axes((451, 639, 950, 1117), (-0.6, 3.6), (0.07, 12.75),
                  gg_axis([0, 1, 2, 3], [f"{t}<br>(n={n})" for t, n in zip(tnbc_types, tnbc_n)], size=10.5),
                  gg_axis([2.5, 5, 7.5, 10, 12.5], ["2.5", "5.0", "7.5", "10.0", "12.5"], size=10.3))
DODGE = 0.1875
for i, t in enumerate(tnbc_types):
    has_pos = i < len(pos_box["q1"])
    xn = i - DODGE if has_pos else i
    wn = 0.35 if has_pos else 0.7
    scatter_box(xa, ya, xn, wn, neg_box["q1"][i], neg_box["med"][i], neg_box["q3"][i], neg_box["lo"][i],
                neg_box["hi"][i], NEG_COL, "#555")
    if neg_out[i]:
        fig.add_trace(go.Scatter(x=[xn] * len(neg_out[i]), y=neg_out[i], mode="markers", xaxis=xa, yaxis=ya,
                                 marker=dict(size=2.8, color="black"), hoverinfo="skip"))
    if has_pos:
        xp = i + DODGE
        scatter_box(xa, ya, xp, 0.35, pos_box["q1"][i], pos_box["med"][i], pos_box["q3"][i], pos_box["lo"][i],
                    pos_box["hi"][i], POS_COL, "#555")
        if pos_out[i]:
            fig.add_trace(go.Scatter(x=[xp] * len(pos_out[i]), y=pos_out[i], mode="markers", xaxis=xa, yaxis=ya,
                                     marker=dict(size=2.8, color="black"), hoverinfo="skip"))
# significance brackets
sig_tops = [12.12, 12.12, 12.45]
for i, lab in enumerate(sig_labels):
    top = sig_tops[i]
    x0, x1 = i - 0.42, i + 0.4
    shapes.append(dict(type="path", xref=xa, yref=ya,
                       path=f"M {x0},{top - 0.33} L {x0},{top} L {x1},{top} L {x1},{top - 0.33}",
                       line=dict(color="#333", width=0.8)))
    annotations.append(dict(x=(x0 + x1) / 2, y=top, xref=xa, yref=ya, text=lab, showarrow=False,
                            yanchor="bottom", borderpad=0, yshift=0 if lab == "ns" else -2,
                            font=dict(size=9 if lab == "ns" else 8.5, family=FONT, color="black")))
text(547, 1158, "TNBC type", size=10.8)
text(412, 1033, "log2(CD3 count)", size=10.5, angle=-90)
# legend
text(584, 1069, "IM type", size=10.3, xanchor="left")
for k, (lab, col) in enumerate([("negative", NEG_COL), ("positive", POS_COL)]):
    yc = 1087 + k * 19
    shapes.append(dict(type="rect", xref="paper", yref="paper", x0=586 / W, x1=600 / W,
                       y0=1 - (yc + 6) / H, y1=1 - (yc - 6) / H, fillcolor=col, line=dict(color="#666", width=0.8)))
    shapes.append(dict(type="line", xref="paper", yref="paper", x0=586 / W, x1=600 / W,
                       y0=1 - yc / H, y1=1 - yc / H, line=dict(color="#444", width=0.8)))
    text(607, yc, lab, size=9.3, xanchor="left")

layout["annotations"] = annotations
layout["shapes"] = shapes
fig.update_layout(**layout)
# remove the browser's default 8px page margin so the figure sits at the window origin; hide the mode bar
fig.write_html("out.html",
               config={"displayModeBar": False, "staticPlot": True},
               post_script="document.body.style.margin='0';document.body.style.padding='0';"
                           "document.body.style.overflow='hidden';")
